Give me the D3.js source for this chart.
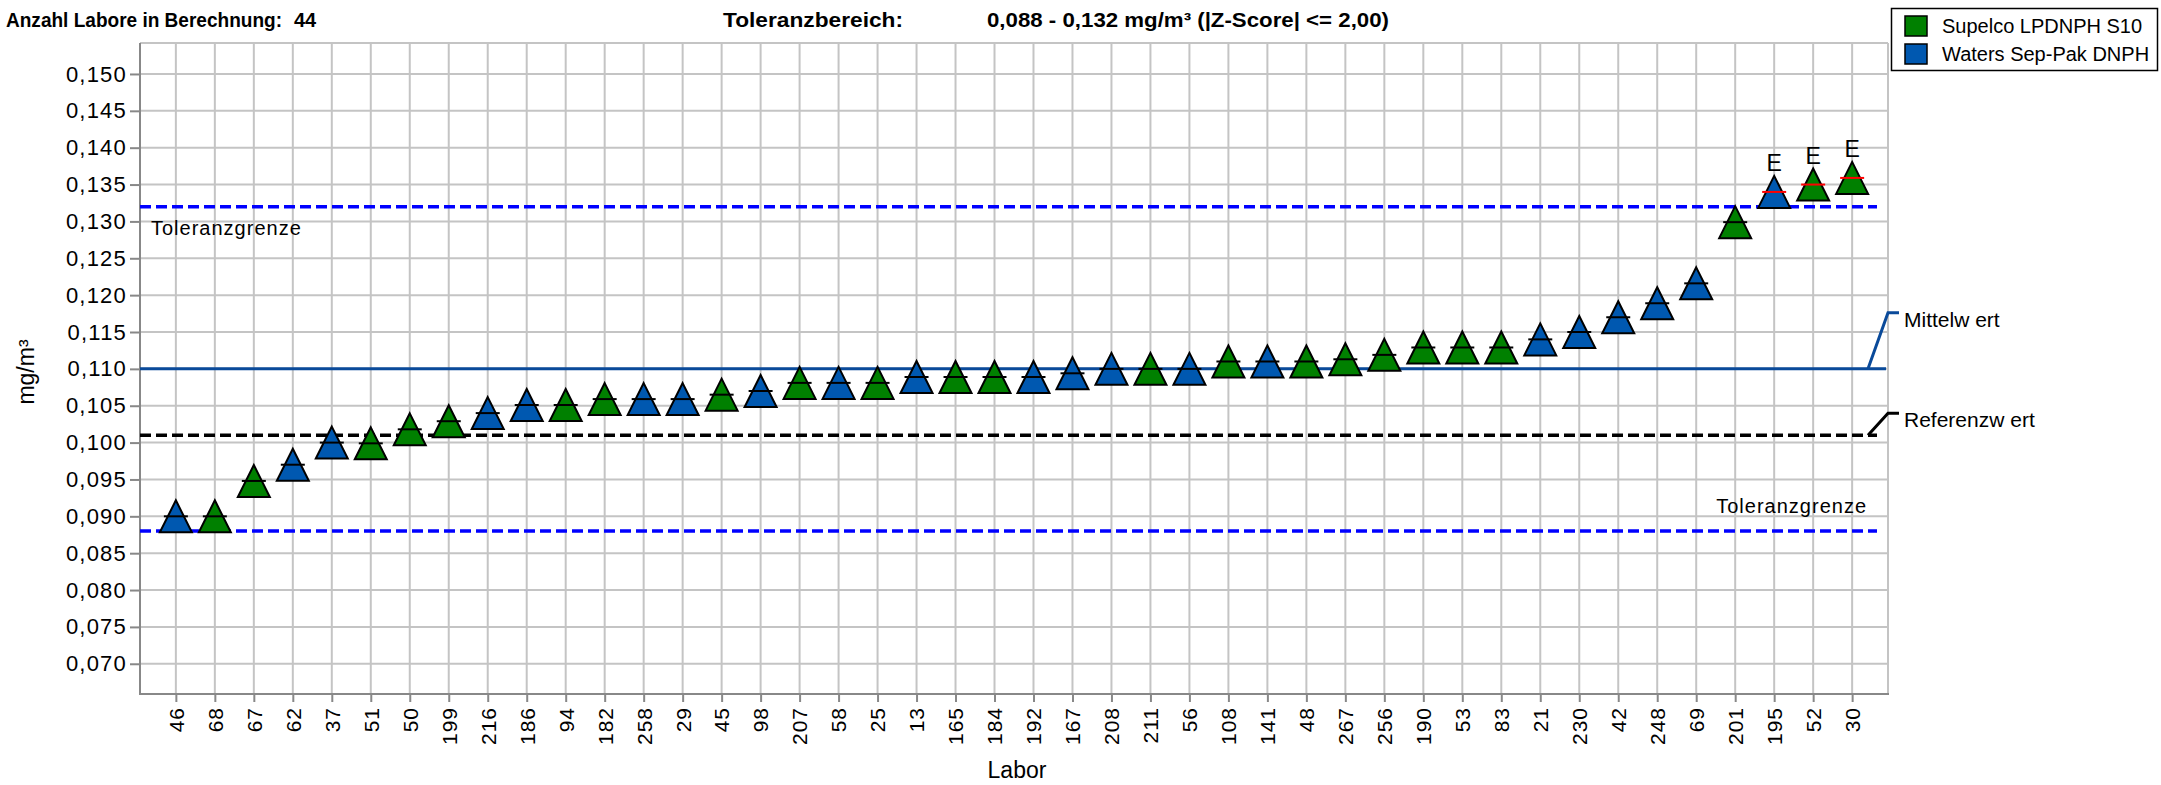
<!DOCTYPE html>
<html>
<head>
<meta charset="utf-8">
<script src="https://cdn.jsdelivr.net/npm/d3@7.9.0/dist/d3.min.js"></script>
<style>
  body { margin: 0; background: #fff; }
  svg { display: block; font-family: "Liberation Sans", Arial, sans-serif; }
</style>
</head>
<body>
<svg id="chart" width="2161" height="785"></svg>
<script>
// labs in the order shown, their values and which kit they used
const labs = ['46','68','67','62','37','51','50','199','216','186','94','182','258','29','45','98',
  '207','58','25','13','165','184','192','167','208','211','56','108','141','48','267','256',
  '190','53','83','21','230','42','248','69','201','195','52','30'];
const values = [0.0900,0.0900,0.0948,0.0970,0.1000,0.0999,0.1018,0.1029,0.1040,0.1051,0.1051,0.1059,
  0.1059,0.1059,0.1065,0.1070,0.1081,0.1081,0.1081,0.1089,0.1089,0.1089,0.1089,0.1094,0.1100,0.1100,
  0.1100,0.1110,0.1110,0.1110,0.1113,0.1119,0.1129,0.1129,0.1129,0.1140,0.1150,0.1170,0.1189,0.1216,
  0.1299,0.1340,0.1350,0.1359];
const kits = ['W','S','S','W','W','S','S','S','W','W','S','S','W','W','S','W',
  'S','W','S','W','S','S','W','W','W','S','W','S','W','S','S','S',
  'S','S','S','W','W','W','W','W','S','W','S','S'];
const flags = labs.map((d, i) => i >= 41 ? 'E' : '');
const yTicks = d3.range(0.070, 0.15001, 0.005);

const series = ['Supelco LPDNPH S10', 'Waters Sep-Pak DNPH'];
const kitColor = { S: '#008000', W: '#0058b0' };

const mean = 0.110, refValue = 0.101, tolLow = 0.088, tolHigh = 0.132;

const svg = d3.select('#chart');
const pLeft = 140, pRight = 1888, pTop = 43, pBottom = 694;

const x = d3.scalePoint().domain(labs).range([pLeft, pRight]).padding(0.92);
const y = d3.scaleLinear().domain([0.0659, 0.1542]).range([pBottom, pTop]);

// grid
const grid = svg.append('g').attr('stroke', '#c4c4c4').attr('stroke-width', 2);
grid.selectAll('.hg').data(yTicks).join('line')
  .attr('x1', pLeft).attr('x2', pRight).attr('y1', d => y(d)).attr('y2', d => y(d));
grid.selectAll('.vg').data(labs).join('line')
  .attr('x1', d => x(d)).attr('x2', d => x(d)).attr('y1', pTop).attr('y2', pBottom);
grid.append('line').attr('x1', pLeft).attr('x2', pRight).attr('y1', pTop).attr('y2', pTop);
grid.append('line').attr('x1', pRight).attr('x2', pRight).attr('y1', pTop).attr('y2', pBottom);

// axes
const fmt = d => d3.format('.3f')(d).replace('.', ',');
const yAxis = svg.append('g').attr('transform', `translate(${pLeft},0)`)
  .call(d3.axisLeft(y).tickValues(yTicks).tickFormat(fmt).tickSize(10).tickPadding(3));
const xAxis = svg.append('g').attr('transform', `translate(0,${pBottom})`)
  .call(d3.axisBottom(x).tickSize(8).tickPadding(4));
[yAxis, xAxis].forEach(a => {
  a.select('.domain').remove();
  a.selectAll('.tick line').attr('stroke', '#888').attr('stroke-width', 2);
  a.selectAll('text').attr('fill', '#000').attr('font-family', '"Liberation Sans", Arial, sans-serif');
});
yAxis.selectAll('text').attr('font-size', 22).attr('letter-spacing', 1.2);
xAxis.selectAll('text').attr('font-size', 21).attr('letter-spacing', 1)
  .attr('transform', 'rotate(-90)').attr('text-anchor', 'end')
  .attr('x', -13).attr('y', 0).attr('dy', '0.35em');
svg.append('line').attr('x1', pLeft).attr('x2', pLeft).attr('y1', pTop).attr('y2', pBottom + 1)
  .attr('stroke', '#888').attr('stroke-width', 2);
svg.append('line').attr('x1', pLeft - 1).attr('x2', pRight + 1).attr('y1', pBottom).attr('y2', pBottom)
  .attr('stroke', '#888').attr('stroke-width', 2);

// reference lines
const lineEnd = 1877;
svg.append('line').attr('x1', pLeft).attr('x2', lineEnd).attr('y1', y(tolHigh)).attr('y2', y(tolHigh))
  .attr('stroke', '#0000ff').attr('stroke-width', 3.5).attr('stroke-dasharray', '11 5');
svg.append('line').attr('x1', pLeft).attr('x2', lineEnd).attr('y1', y(tolLow)).attr('y2', y(tolLow))
  .attr('stroke', '#0000ff').attr('stroke-width', 3.5).attr('stroke-dasharray', '11 5');
svg.append('line').attr('x1', pLeft).attr('x2', lineEnd).attr('y1', y(refValue)).attr('y2', y(refValue))
  .attr('stroke', '#000').attr('stroke-width', 3.5).attr('stroke-dasharray', '11 5');
svg.append('line').attr('x1', pLeft).attr('x2', 1886).attr('y1', y(mean)).attr('y2', y(mean))
  .attr('stroke', '#0a4a9a').attr('stroke-width', 3);

// connector labels
svg.append('path')
  .attr('d', `M1868,${y(mean)} L1888,${y(mean) - 56} L1899,${y(mean) - 56}`)
  .attr('fill', 'none').attr('stroke', '#0a4a9a').attr('stroke-width', 3);
svg.append('path')
  .attr('d', `M1868,${y(refValue)} L1888,${y(refValue) - 22} L1899,${y(refValue) - 22}`)
  .attr('fill', 'none').attr('stroke', '#000').attr('stroke-width', 3);
svg.append('text').attr('x', 1904).attr('y', y(mean) - 42).attr('font-size', 21).text('Mittelw ert');
svg.append('text').attr('x', 1904).attr('y', y(refValue) - 8).attr('font-size', 21).text('Referenzw ert');

svg.append('text').attr('x', 151).attr('y', y(tolHigh) + 28).attr('font-size', 20)
  .attr('letter-spacing', 1).text('Toleranzgrenze');
svg.append('text').attr('x', 1867).attr('y', y(tolLow) - 18).attr('font-size', 20)
  .attr('letter-spacing', 1).attr('text-anchor', 'end').text('Toleranzgrenze');

// markers
const pts = svg.append('g');
labs.forEach((lab, i) => {
  const cx = x(lab), cy = y(values[i]);
  pts.append('path')
    .attr('d', `M${cx},${cy - 16} L${cx + 16},${cy + 16} L${cx - 16},${cy + 16} Z`)
    .attr('fill', kitColor[kits[i]]).attr('stroke', '#000').attr('stroke-width', 2)
    .attr('stroke-linejoin', 'miter');
  pts.append('line').attr('x1', cx - 12).attr('x2', cx + 12).attr('y1', cy).attr('y2', cy)
    .attr('stroke', flags[i] ? '#ff0000' : '#000').attr('stroke-width', 2);
  if (flags[i]) {
    pts.append('text').attr('x', cx).attr('y', cy - 21).attr('text-anchor', 'middle')
      .attr('font-size', 23).text(flags[i]);
  }
});

// titles
svg.append('text').attr('transform', `translate(34,372) rotate(-90)`).attr('text-anchor', 'middle')
  .attr('font-size', 23).text('mg/m³');
svg.append('text').attr('x', 1017).attr('y', 778).attr('text-anchor', 'middle')
  .attr('font-size', 23).text('Labor');

// header
const head = svg.append('g').attr('font-weight', 'bold').attr('font-size', 20);
head.append('text').attr('x', 6).attr('y', 27).attr('textLength', 276).attr('lengthAdjust', 'spacingAndGlyphs')
  .text('Anzahl Labore in Berechnung:');
head.append('text').attr('x', 294).attr('y', 27).text('44');
head.append('text').attr('x', 723).attr('y', 27).attr('textLength', 180).attr('lengthAdjust', 'spacingAndGlyphs')
  .text('Toleranzbereich:');
head.append('text').attr('x', 987).attr('y', 27).attr('textLength', 402).attr('lengthAdjust', 'spacingAndGlyphs')
  .text('0,088 - 0,132 mg/m³ (|Z-Score| <= 2,00)');

// legend
const lg = svg.append('g');
lg.append('rect').attr('x', 1891.5).attr('y', 8.5).attr('width', 266).attr('height', 62)
  .attr('fill', '#fff').attr('stroke', '#000').attr('stroke-width', 1.5);
series.forEach((s, i) => {
  const cy = 26 + i * 28;
  lg.append('rect').attr('x', 1905).attr('y', cy - 10).attr('width', 22).attr('height', 20)
    .attr('fill', kitColor[i === 0 ? 'S' : 'W']).attr('stroke', '#000').attr('stroke-width', 1.5);
  lg.append('text').attr('x', 1942).attr('y', cy).attr('dy', '0.35em').attr('font-size', 20).text(s);
});
</script>
</body>
</html>
